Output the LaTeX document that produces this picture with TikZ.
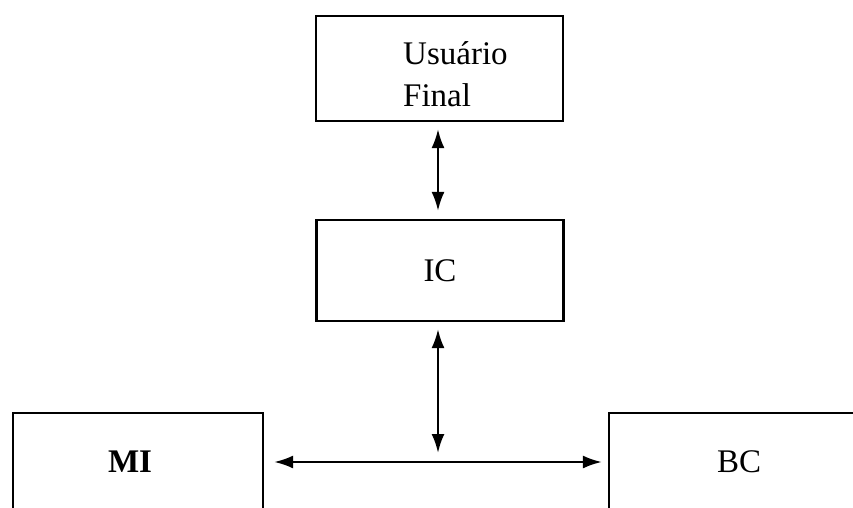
\documentclass[tikz,border=0pt]{standalone}
\usepackage{fontspec}
\setmainfont{Liberation Serif}
\usetikzlibrary{arrows.meta}

\tikzset{
  box/.style={draw, line width=2.2pt, minimum width=#1, minimum height=101pt,
    inner sep=0pt, font=\fontsize{33}{42}\selectfont},
  box/.default=247pt,
  link/.style={line width=2.4pt, {Latex[length=19pt,width=13pt]}-{Latex[length=19pt,width=13pt]}}
}

\begin{document}
\begin{tikzpicture}[x=1pt,y=-1pt]
  \useasboundingbox (0,0) rectangle (853,508);

  \node[box, minimum height=105pt] (user) at (439.5,68.5) {};
  \node[align=left, font=\fontsize{33}{42}\selectfont, anchor=north west, inner sep=0pt]
    (userlabel) at (403,41) {Usuário\\Final};
  \node[box] (ic) at (440,270.5) {IC};
  \node[box=250pt, minimum height=98pt] (mi) at (138,462) {\bfseries MI\hspace*{16pt}};
  \node[box=260pt, minimum height=98pt] (bc) at (739,462) {BC};

  \coordinate (hub) at (438,453);

  \draw[link, shorten <=7pt, shorten >=8pt] (user.south -| 438,0) -- (ic.north -| 438,0);
  \draw[link, shorten <=7pt] (ic.south -| hub) -- (hub);
  \draw[link, shorten <=10pt, shorten >=6pt] (mi.east) -- (bc.west);
\end{tikzpicture}
\end{document}
